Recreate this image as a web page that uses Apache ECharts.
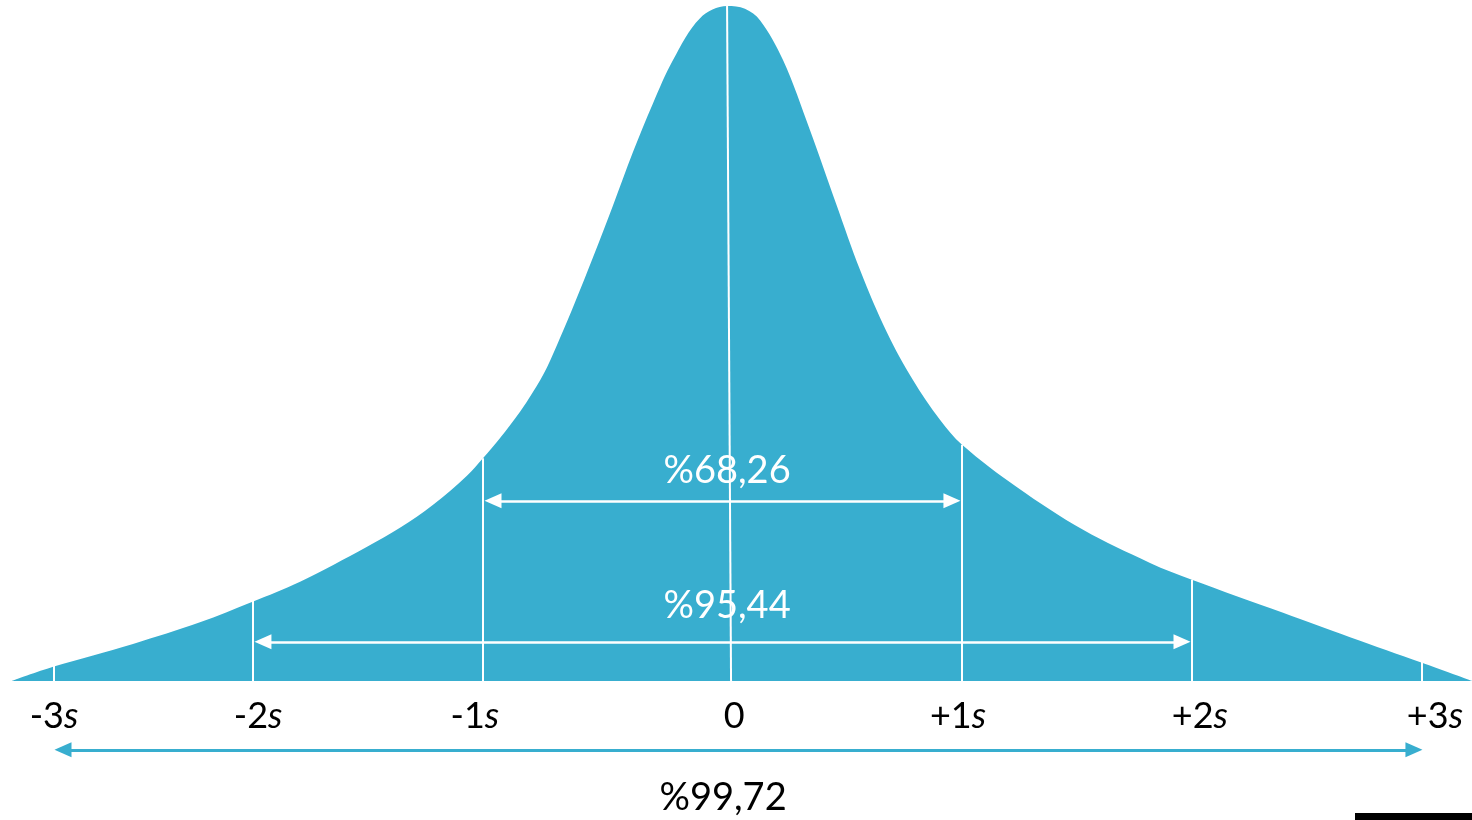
<!DOCTYPE html>
<html><head><meta charset="utf-8">
<script src="https://cdn.jsdelivr.net/npm/echarts@6/dist/echarts.min.js"></script>
<style>html,body{margin:0;padding:0;background:#fff}#c{width:1472px;height:820px}</style>
</head><body><div id="c"></div>
<script>
// Curve (x in sigma-like units, height relative to peak)
const curveX = [-3.047,-2.872,-2.532,-2.247,-2.026,-1.821,-1.536,-1.396,-1.255,-1.111,-1.043,-0.970,-0.885,-0.830,-0.770,-0.715,-0.651,-0.574,-0.489,-0.404,-0.319,-0.234,-0.119,-0.004,0.072,0.136,0.234,0.349,0.460,0.562,0.677,0.787,0.902,0.996,1.230,1.511,1.796,1.974,2.362,2.647,2.953,3.166];
const curveY = [0,0.021,0.055,0.087,0.117,0.147,0.199,0.227,0.261,0.304,0.330,0.360,0.399,0.428,0.465,0.508,0.561,0.628,0.705,0.784,0.856,0.920,0.982,1.0,0.996,0.979,0.920,0.816,0.707,0.609,0.516,0.446,0.387,0.350,0.287,0.224,0.175,0.150,0.101,0.065,0.027,0];

// Sigma marker lines
const sigmaBottomX = [-2.868,-2.021,-1.043,0.013,0.996,1.974,2.953];
const sigmaTopX    = [-2.868,-2.021,-1.043,-0.004,0.996,1.974,2.953];
const sigmaTop     = [0.024,0.119,0.330,1.0,0.350,0.150,0.028];
const tickNumbers  = ['-3','-2','-1','0','+1','+2','+3'];
const tickSuffix   = ['s','s','s','','s','s','s'];

// Interval annotations
const intervalLabels = ['%68,26','%95,44','%99,72'];
const intervalFrom   = [-1.034,-2.013,-2.864];
const intervalTo     = [0.987,1.966,2.953];
const intervalArrowY = [0.267,0.058,-0.102];
const intervalLabelX = [-0.004,-0.004,-0.021];
const intervalLabelY = [0.311,0.111,-0.173];

const BLUE = '#38aecf';
const FONT = 'Lato';
const headInset = 0.034;
const X_MIN = -3.098, X_MAX = 3.166;
// horizontal nudge (px) of each tick label relative to its line
const labelNudge = [0, 5, -8, 3, -4, 8, 13];

function arrowPair(i) {
  const inner = i < 2;
  return [
    {coord:[intervalFrom[i]+headInset, intervalArrowY[i]], symbol:'triangle', symbolSize:[15,17],
     lineStyle:{color: inner ? '#fff' : BLUE, width: inner ? 2.5 : 3, type:'solid'}},
    {coord:[intervalTo[i]-headInset, intervalArrowY[i]], symbol:'triangle', symbolSize:[15,17]}
  ];
}
function labelItem(i) {
  const c = i < 2 ? '#ffffff' : '#000000';
  return {
    value:[intervalLabelX[i], intervalLabelY[i]],
    itemStyle:{color:c},
    label:{show:true, position:'inside', formatter:intervalLabels[i], fontSize:38, fontFamily:FONT,
           color:c, opacity:1, textBorderWidth:0}
  };
}

const mainLines = sigmaBottomX.map((x, i) => [
  {coord:[x,0], symbol:'none', lineStyle:{color:'#fff', width:2, type:'solid'}},
  {coord:[sigmaTopX[i], sigmaTop[i]], symbol:'none'}
]);
mainLines.push(arrowPair(0), arrowPair(1));

const rich = {
  a:{fontSize:36, fontFamily:FONT, color:'#000'},
  b:{fontSize:36, fontFamily:FONT, fontStyle:'italic', color:'#000'}
};
labelNudge.forEach((n, i) => {
  rich['p' + i] = {width: Math.abs(n) * 2, height: 1};
});

const chart = echarts.init(document.getElementById('c'), null, {renderer:'canvas'});
chart.setOption({
  animation:false,
  grid:[
    {left:0,right:0,top:6,bottom:139, containLabel:false, outerBoundsMode:'none'},
    {left:0,right:0,top:6,bottom:4, containLabel:false, outerBoundsMode:'none'}
  ],
  xAxis:[{
    gridIndex:0, type:'value', min:X_MIN, max:X_MAX,
    axisLine:{show:false}, axisTick:{show:false}, splitLine:{show:false},
    axisLabel:{
      customValues: sigmaBottomX,
      margin:17,
      formatter:(v)=>{
        let bi=0, bd=1e9;
        sigmaBottomX.forEach((x,i)=>{const d=Math.abs(x-v); if(d<bd){bd=d;bi=i;}});
        const txt = '{a|'+tickNumbers[bi]+'}'+(tickSuffix[bi]?'{b|'+tickSuffix[bi]+'}':'');
        const n = labelNudge[bi];
        if (n > 0) return '{p'+bi+'| }' + txt;
        if (n < 0) return txt + '{p'+bi+'| }';
        return txt;
      },
      rich: rich
    }
  },{
    gridIndex:1, type:'value', min:X_MIN, max:X_MAX, show:false, splitLine:{show:false}
  }],
  yAxis:[
    {gridIndex:0, type:'value', min:0, max:1, show:false, splitLine:{show:false}},
    {gridIndex:1, type:'value', min:-0.2, max:1, show:false, splitLine:{show:false}}
  ],
  graphic:[{type:'rect', right:0, bottom:0, shape:{width:117,height:7}, style:{fill:'#000'}}],
  series:[
    {
      type:'line', xAxisIndex:0, yAxisIndex:0,
      data: curveX.map((x,i)=>[x, curveY[i]]),
      smooth:0.35, symbol:'none', lineStyle:{width:0},
      areaStyle:{color:BLUE, opacity:1, origin:0},
      markLine:{silent:true, symbol:'none', label:{show:false}, data:mainLines}
    },
    {
      type:'scatter', xAxisIndex:0, yAxisIndex:0, z:10, symbolSize:0,
      data:[labelItem(0), labelItem(1)]
    },
    {
      type:'scatter', xAxisIndex:1, yAxisIndex:1, z:10, symbolSize:0,
      data:[labelItem(2)],
      markLine:{silent:true, symbol:'none', label:{show:false}, data:[arrowPair(2)]}
    }
  ]
});
</script></body></html>
